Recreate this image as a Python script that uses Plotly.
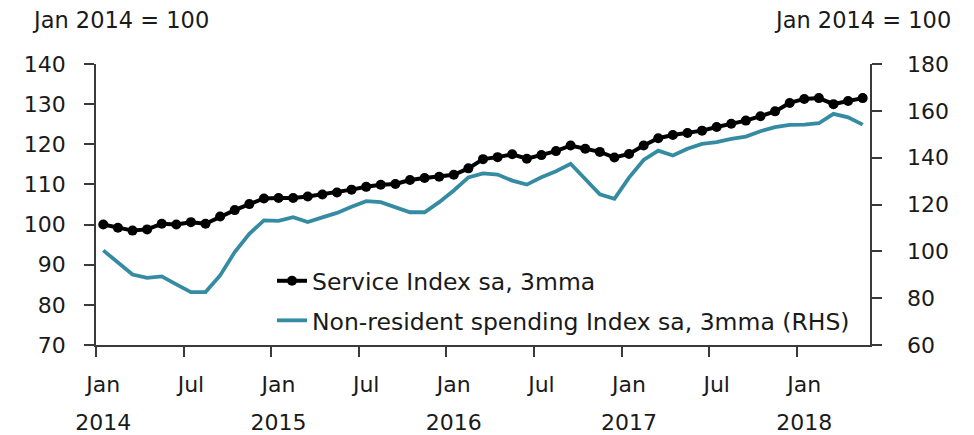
import plotly.graph_objects as go

# Monthly index, Jan 2014 .. May 2018
months = ["Jan", "Feb", "Mar", "Apr", "May", "Jun", "Jul", "Aug", "Sep", "Oct", "Nov", "Dec"]
period_labels = [f"{months[i % 12]} {2014 + i // 12}" for i in range(53)]

service_index = [
    100.0, 99.2, 98.5, 98.8, 100.2, 100.0, 100.6, 100.2, 102.0, 103.6, 105.1, 106.5,
    106.6, 106.6, 107.0, 107.5, 108.0, 108.7, 109.4, 109.9, 110.1, 111.1, 111.6, 111.9,
    112.4, 114.0, 116.3, 116.8, 117.5, 116.4, 117.3, 118.3, 119.7, 118.9, 118.1, 116.7,
    117.6, 119.7, 121.5, 122.3, 122.8, 123.4, 124.3, 125.1, 125.9, 127.0, 128.2, 130.3,
    131.3, 131.5, 130.0, 130.8, 131.5,
]

nonresident_spending = [
    100.4, 95.4, 90.1, 88.7, 89.3, 85.9, 82.6, 82.6, 89.7, 99.7, 107.5, 113.2,
    113.0, 114.6, 112.5, 114.5, 116.4, 119.0, 121.4, 121.0, 118.9, 116.7, 116.7, 121.0,
    126.0, 131.6, 133.3, 132.8, 130.2, 128.5, 131.6, 134.2, 137.4, 131.0, 124.3, 122.4,
    131.5, 139.0, 143.0, 140.9, 143.8, 145.9, 146.6, 148.0, 149.0, 151.3, 153.0, 154.0,
    154.1, 154.7, 158.7, 157.2, 154.1,
]

month_tick_pos = list(range(0, 53, 6))
month_tick_text = ["Jan", "Jul", "Jan", "Jul", "Jan", "Jul", "Jan", "Jul", "Jan"]
year_tick_pos = list(range(0, 53, 12))
year_tick_text = ["2014", "2015", "2016", "2017", "2018"]
left_ticks = list(range(70, 141, 10))
right_ticks = list(range(60, 181, 20))

left_title = "Jan 2014 = 100"
right_title = "Jan 2014 = 100"
service_name = "Service Index sa, 3mma"
spend_name = "Non-resident spending Index sa, 3mma (RHS)"

x = list(range(len(service_index)))
boundary_ticks = [p - 0.5 for p in month_tick_pos]
FONT = "DejaVu Sans"
TXT = "#1a1a1a"
AX = "#3a3a3a"
TEAL = "#358ca2"
LPAD = "\u00a0\u00a0"
RPAD = "\u00a0\u00a0\u00a0"

fig = go.Figure()
fig.add_trace(go.Scatter(
    x=x, y=service_index, name=service_name, mode="lines+markers",
    line=dict(color="black", width=4), marker=dict(color="black", size=10),
    xaxis="x", yaxis="y", legendgroup="a",
    hovertext=period_labels,
))
fig.add_trace(go.Scatter(
    x=x, y=nonresident_spending, name=spend_name, mode="lines",
    line=dict(color=TEAL, width=3.8),
    xaxis="x", yaxis="y2", legendgroup="b",
    hovertext=period_labels,
))
# invisible helpers carrying the label axes
fig.add_trace(go.Scatter(x=[0], y=[None], xaxis="x2", yaxis="y", showlegend=False, hoverinfo="skip"))
fig.add_trace(go.Scatter(x=[0], y=[None], xaxis="x3", yaxis="y", showlegend=False, hoverinfo="skip"))

common_x = dict(range=[-0.5, 52.5], showgrid=False, zeroline=False, automargin=False)
fig.update_layout(
    width=966, height=427, autosize=False,
    paper_bgcolor="white", plot_bgcolor="white",
    margin=dict(l=88, r=104, t=56, b=90, pad=0),
    font=dict(family=FONT, size=22, color=TXT),
    showlegend=True,
    legend=dict(
        x=0.2274, y=0.306, xanchor="left", yanchor="top",
        bgcolor="rgba(0,0,0,0)", borderwidth=0,
        font=dict(size=23.5, color=TXT), tracegroupgap=6,
        traceorder="grouped",
    ),
    xaxis=dict(
        **common_x, tickvals=boundary_ticks, ticks="outside", ticklen=10,
        tickwidth=1.5, tickcolor=AX, showticklabels=False,
        showline=True, linecolor=AX, linewidth=1.5,
    ),
    xaxis2=dict(
        **common_x, overlaying="x", side="bottom", anchor="y",
        tickvals=month_tick_pos, ticktext=month_tick_text, ticks="",
        showline=False, ticklabelstandoff=24,
    ),
    xaxis3=dict(
        **common_x, overlaying="x", side="bottom", anchor="y",
        tickvals=year_tick_pos, ticktext=year_tick_text, ticks="",
        showline=False, ticklabelstandoff=62,
    ),
    yaxis=dict(
        range=[70, 140], tickvals=left_ticks,
        ticktext=[f"{v}{LPAD}" for v in left_ticks], ticks="outside",
        ticklen=10, tickwidth=1.5, tickcolor=AX, showline=True, linecolor=AX,
        linewidth=1.5, showgrid=False, zeroline=False, automargin=False,
    ),
    yaxis2=dict(
        range=[60, 180], tickvals=right_ticks,
        ticktext=[f"{RPAD}{v}" for v in right_ticks], ticks="outside",
        ticklen=10, tickwidth=1.5, tickcolor=AX, showline=True, linecolor=AX,
        linewidth=1.5, showgrid=False, zeroline=False, overlaying="y",
        side="right", anchor="x", automargin=False,
    ),
    annotations=[
        dict(text=left_title, xref="paper", yref="paper", x=-0.0853, y=1.1566,
             xanchor="left", yanchor="middle", showarrow=False,
             font=dict(size=22.5, color=TXT)),
        dict(text=right_title, xref="paper", yref="paper", x=1.1072, y=1.158,
             xanchor="right", yanchor="middle", showarrow=False,
             font=dict(size=22.5, color=TXT)),
    ],
)

fig.write_html("out.html")
